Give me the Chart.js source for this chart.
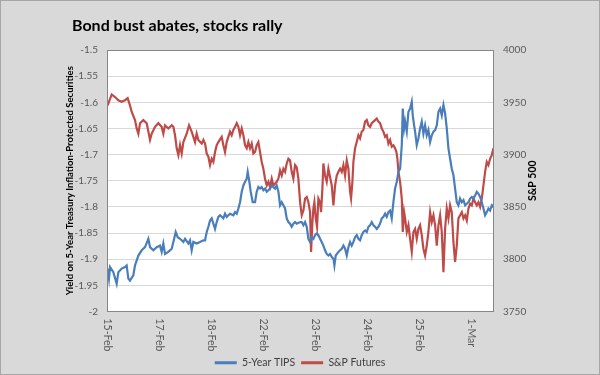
<!DOCTYPE html>
<html><head><meta charset="utf-8">
<script src="https://cdn.jsdelivr.net/npm/chart.js@4/dist/chart.umd.min.js"></script>
<style>
html,body{margin:0;padding:0;background:#d9d9d9;}
canvas{display:block;}
</style></head><body>
<canvas id="c" width="600" height="375"></canvas>
<script>
// ---- text ----
const chartTitle = 'Bond bust abates, stocks rally';
const leftAxisTitle = 'Yield on 5-Year Treasury Inflation-Protected Securities';
const rightAxisTitle = 'S&P 500';
const seriesNames = ['5-Year TIPS', 'S&P Futures'];
// x tick labels: one per trading day (x value = trading-day index)
const dayLabels = ['15-Feb','17-Feb','18-Feb','22-Feb','23-Feb','24-Feb','25-Feb','1-Mar'];

// ---- 5-Year TIPS yield (time in trading days since 15-Feb open) ----
const tipsTime = [
0.013,0.038,0.058,0.122,0.186,0.218,0.282,0.346,0.378,0.410,
0.442,0.506,0.538,0.603,0.667,0.731,0.795,0.827,0.891,0.955,
1.019,1.051,1.083,1.115,1.179,1.244,1.276,1.321,1.359,1.404,
1.468,1.500,1.564,1.596,1.628,1.660,1.724,1.788,1.853,1.885,
1.917,1.949,1.981,2.013,2.045,2.077,2.109,2.141,2.173,2.237,
2.269,2.301,2.365,2.429,2.462,2.494,2.526,2.558,2.590,2.622,
2.654,2.686,2.705,2.737,2.763,2.801,2.846,2.878,2.910,2.942,
2.974,3.006,3.038,3.071,3.135,3.167,3.199,3.231,3.263,3.295,
3.327,3.359,3.391,3.423,3.455,3.487,3.519,3.551,3.583,3.615,
3.647,3.712,3.744,3.776,3.808,3.840,3.872,3.904,3.936,3.968,
4.000,4.032,4.064,4.096,4.128,4.160,4.192,4.224,4.256,4.288,
4.321,4.353,4.372,4.397,4.449,4.481,4.513,4.545,4.577,4.609,
4.641,4.673,4.705,4.737,4.769,4.801,4.833,4.865,4.897,4.929,
4.962,4.994,5.026,5.058,5.090,5.122,5.154,5.186,5.218,5.250,
5.282,5.314,5.346,5.378,5.410,5.442,5.474,5.506,5.538,5.571,
5.603,5.635,5.667,5.686,5.712,5.731,5.763,5.795,5.827,5.859,
5.878,5.904,5.923,5.955,5.987,6.019,6.051,6.083,6.115,6.147,
6.179,6.212,6.244,6.276,6.308,6.340,6.372,6.404,6.436,6.468,
6.500,6.532,6.564,6.596,6.628,6.660,6.692,6.724,6.756,6.788,
6.821,6.853,6.885,6.917,6.949,6.981,7.013,7.045,7.077,7.109,
7.141,7.173,7.205,7.237,7.269,7.301,7.333,7.365,7.397,7.429,
7.445];
const tipsYield = [
-1.918,-1.937,-1.915,-1.925,-1.947,-1.925,-1.918,-1.915,-1.912,-1.937,
-1.941,-1.931,-1.912,-1.893,-1.883,-1.877,-1.861,-1.877,-1.883,-1.877,
-1.874,-1.886,-1.870,-1.890,-1.886,-1.880,-1.867,-1.848,-1.858,-1.861,
-1.867,-1.861,-1.870,-1.864,-1.883,-1.867,-1.870,-1.867,-1.864,-1.864,
-1.848,-1.838,-1.826,-1.822,-1.832,-1.842,-1.829,-1.819,-1.816,-1.822,
-1.813,-1.819,-1.813,-1.816,-1.810,-1.813,-1.803,-1.791,-1.771,-1.759,
-1.752,-1.746,-1.733,-1.752,-1.771,-1.791,-1.791,-1.771,-1.762,-1.765,
-1.762,-1.768,-1.765,-1.771,-1.765,-1.759,-1.762,-1.765,-1.759,-1.771,
-1.797,-1.791,-1.797,-1.803,-1.822,-1.829,-1.832,-1.838,-1.832,-1.829,
-1.832,-1.829,-1.829,-1.835,-1.829,-1.838,-1.861,-1.867,-1.858,-1.861,
-1.854,-1.851,-1.854,-1.861,-1.867,-1.874,-1.883,-1.890,-1.893,-1.890,
-1.896,-1.899,-1.912,-1.893,-1.886,-1.883,-1.880,-1.874,-1.880,-1.893,
-1.877,-1.867,-1.874,-1.867,-1.858,-1.854,-1.861,-1.864,-1.854,-1.848,
-1.845,-1.848,-1.838,-1.835,-1.829,-1.835,-1.838,-1.842,-1.838,-1.832,
-1.822,-1.819,-1.813,-1.819,-1.810,-1.807,-1.822,-1.791,-1.765,-1.752,
-1.733,-1.727,-1.682,-1.612,-1.650,-1.637,-1.656,-1.618,-1.612,-1.599,
-1.625,-1.644,-1.656,-1.682,-1.669,-1.650,-1.637,-1.660,-1.644,-1.663,
-1.653,-1.676,-1.663,-1.656,-1.653,-1.644,-1.618,-1.612,-1.625,-1.605,
-1.621,-1.650,-1.688,-1.708,-1.727,-1.739,-1.765,-1.791,-1.797,-1.784,
-1.791,-1.787,-1.797,-1.794,-1.791,-1.784,-1.781,-1.784,-1.778,-1.771,
-1.775,-1.781,-1.791,-1.803,-1.816,-1.810,-1.803,-1.807,-1.797,-1.800,
-1.791];

// ---- S&P futures level ----
const spxTime = [
0.013,0.090,0.154,0.218,0.282,0.346,0.397,0.442,0.474,0.538,
0.571,0.603,0.635,0.699,0.763,0.795,0.827,0.859,0.923,0.987,
1.051,1.083,1.115,1.179,1.244,1.276,1.308,1.340,1.372,1.404,
1.436,1.468,1.532,1.577,1.628,1.660,1.692,1.724,1.756,1.821,
1.853,1.885,1.917,1.949,1.981,2.013,2.045,2.077,2.109,2.141,
2.205,2.237,2.269,2.301,2.365,2.397,2.429,2.462,2.494,2.526,
2.558,2.590,2.622,2.654,2.686,2.718,2.750,2.782,2.814,2.846,
2.878,2.910,2.942,2.974,3.006,3.038,3.071,3.103,3.135,3.167,
3.199,3.263,3.295,3.327,3.359,3.391,3.423,3.455,3.487,3.519,
3.551,3.583,3.615,3.647,3.679,3.712,3.744,3.776,3.808,3.840,
3.872,3.904,3.923,3.949,3.968,3.987,4.013,4.038,4.064,4.096,
4.115,4.141,4.160,4.192,4.224,4.256,4.288,4.321,4.353,4.385,
4.417,4.449,4.481,4.513,4.545,4.577,4.609,4.641,4.673,4.692,
4.718,4.737,4.769,4.801,4.833,4.865,4.897,4.929,4.962,4.994,
5.026,5.058,5.090,5.122,5.154,5.186,5.218,5.250,5.282,5.314,
5.346,5.378,5.410,5.442,5.474,5.506,5.538,5.564,5.583,5.603,
5.635,5.667,5.686,5.712,5.731,5.763,5.795,5.827,5.859,5.891,
5.923,5.955,5.987,6.019,6.051,6.083,6.115,6.147,6.179,6.212,
6.244,6.276,6.308,6.340,6.372,6.404,6.436,6.468,6.500,6.532,
6.564,6.596,6.628,6.660,6.692,6.724,6.756,6.788,6.821,6.853,
6.885,6.917,6.949,6.981,7.013,7.045,7.077,7.109,7.141,7.173,
7.205,7.237,7.269,7.301,7.333,7.365,7.397,7.429];
const spxLevel = [
3947,3957.5,3955,3952,3950.5,3952,3954,3947,3941,3933,
3925,3920,3930,3933,3930,3922,3914,3920,3926.5,3930,
3926.5,3920,3928,3925,3928,3926.5,3918.5,3906,3899.5,3909,
3901,3912,3920,3928,3922,3917,3912,3920,3914,3910.5,
3914,3910.5,3901,3898,3890,3896,3893,3902.5,3909,3912,
3917,3909,3902.5,3912,3922,3918.5,3923.5,3926.5,3930,3926.5,
3918.5,3925,3918.5,3909,3906,3912,3906,3910.5,3901,3902.5,
3909,3912,3902.5,3893,3886.5,3877,3870.5,3874,3869,3877,
3870.5,3874,3877,3885,3880,3886.5,3883.5,3891.5,3896,3894.5,
3883.5,3877,3890,3888,3877,3854.5,3842,3846.5,3858,3859.5,
3854.5,3845,3807,3835.5,3848.5,3854.5,3839,3831,3858,3854.5,
3845,3867.5,3891.5,3880,3874,3886.5,3878.5,3870.5,3851.5,3870.5,
3880,3883.5,3886.5,3883.5,3890,3880,3894.5,3886.5,3864.5,3858,
3874,3893,3906,3912,3918.5,3915.5,3922,3923.5,3931.5,3933,
3928,3926.5,3930,3931.5,3933,3934.5,3931.5,3930,3925,3922,
3917,3918.5,3910.5,3914,3907.5,3909,3906,3902.5,3896,3883.5,
3874,3858,3826,3845,3839,3826,3832.5,3819.5,3807,3826,
3829,3819.5,3829,3832.5,3823,3810,3803.5,3813,3826,3845,
3835.5,3842,3832.5,3813,3832.5,3842,3826,3787.5,3829,3848.5,
3839,3851.5,3845,3816.5,3797.5,3813,3839,3842,3845,3839,
3842,3837,3848.5,3853,3851.5,3858,3854.5,3851.5,3854.5,3850,
3858,3870.5,3883.5,3893,3890,3896,3899.5,3906];

const FONT = "Lato, 'Open Sans', sans-serif";
const BLUE = '#4a7ebb', RED = '#be4b48';

const pairs = (xs, ys) => xs.map((x, i) => ({x: x, y: ys[i]}));

const decor = {
  id: 'decor',
  beforeDraw(chart) {
    const {ctx, chartArea: a, width, height} = chart;
    ctx.save();
    ctx.fillStyle = '#d9d9d9';
    ctx.fillRect(0, 0, width, height);
    ctx.fillStyle = '#ffffff';
    ctx.fillRect(a.left, a.top, a.right - a.left, a.bottom - a.top);
    ctx.restore();
  },
  afterDraw(chart) {
    const {ctx, chartArea: a, width, height, scales} = chart;
    ctx.save();
    // plot border
    ctx.strokeStyle = '#868686';
    ctx.lineWidth = 1;
    ctx.strokeRect(Math.round(a.left) + 0.5, Math.round(a.top) + 0.5,
                   Math.round(a.right - a.left) - 1, Math.round(a.bottom - a.top) - 1);
    // outer border
    ctx.strokeStyle = '#a6a6a6';
    ctx.strokeRect(0.5, 0.5, width - 1, height - 1);
    // title
    ctx.fillStyle = '#000000';
    ctx.font = "bold 16px " + FONT;
    ctx.textAlign = 'left';
    ctx.textBaseline = 'alphabetic';
    ctx.fillText(chartTitle, 72, 31);
    // x tick labels, rotated clockwise
    ctx.font = "10.5px " + FONT;
    ctx.fillStyle = '#595959';
    ctx.textBaseline = 'middle';
    dayLabels.forEach((lab, i) => {
      const x = scales.x.getPixelForValue(i);
      ctx.save();
      ctx.translate(x, a.bottom + 7);
      ctx.rotate(Math.PI / 2);
      ctx.fillText(lab, 0, 0);
      ctx.restore();
    });
    // right axis title
    ctx.font = "bold 10.5px " + FONT;
    ctx.fillStyle = '#000000';
    ctx.textAlign = 'center';
    ctx.save();
    ctx.translate(533, (a.top + a.bottom) / 2);
    ctx.rotate(-Math.PI / 2);
    ctx.fillText(rightAxisTitle, 0, 0);
    ctx.restore();
    ctx.restore();
  }
};

new Chart(document.getElementById('c'), {
  type: 'line',
  data: {
    datasets: [
      {label: seriesNames[0], data: pairs(tipsTime, tipsYield), yAxisID: 'y',
       borderColor: BLUE, backgroundColor: BLUE, borderWidth: 2.2, pointRadius: 0, tension: 0},
      {label: seriesNames[1], data: pairs(spxTime, spxLevel), yAxisID: 'y1',
       borderColor: RED, backgroundColor: RED, borderWidth: 2.2, pointRadius: 0, tension: 0}
    ]
  },
  options: {
    responsive: false,
    animation: false,
    devicePixelRatio: 1,
    layout: {padding: {top: 50, left: 0, right: 0, bottom: -3}},
    plugins: {
      tooltip: {enabled: false},
      title: {display: false},
      legend: {
        display: true, position: 'bottom',
        labels: {
          boxWidth: 22, boxHeight: 3, padding: 6, color: '#404040',
          font: {family: FONT, size: 10.5},
          generateLabels(chart) {
            const items = Chart.defaults.plugins.legend.labels.generateLabels(chart);
            items.forEach(it => { it.lineWidth = 0; it.fillStyle = it.strokeStyle; });
            return items;
          }
        }
      }
    },
    scales: {
      x: {
        type: 'linear', min: 0, max: 7.44,
        ticks: {display: false, stepSize: 1},
        grid: {display: false}, border: {display: false},
        afterFit(s) { s.height = 40; }
      },
      y: {
        position: 'left', min: -2, max: -1.5,
        ticks: {stepSize: 0.05, color: '#595959', padding: 9, font: {family: FONT, size: 10},
                callback: v => String(Number(v.toFixed(2)))},
        grid: {color: '#d9d9d9', drawTicks: false}, border: {display: false},
        title: {display: true, text: leftAxisTitle, color: '#000000',
                font: {family: FONT, size: 9.5, weight: 'bold'}, padding: {top: 64, bottom: 0}},
        afterFit(s) { s.width = 107; }
      },
      y1: {
        position: 'right', min: 3750, max: 4000,
        ticks: {stepSize: 50, color: '#595959', padding: 9, font: {family: FONT, size: 10},
                callback: v => String(v)},
        grid: {display: false, drawTicks: false}, border: {display: false},
        afterFit(s) { s.width = 106; }
      }
    }
  },
  plugins: [decor]
});
</script>
</body></html>
